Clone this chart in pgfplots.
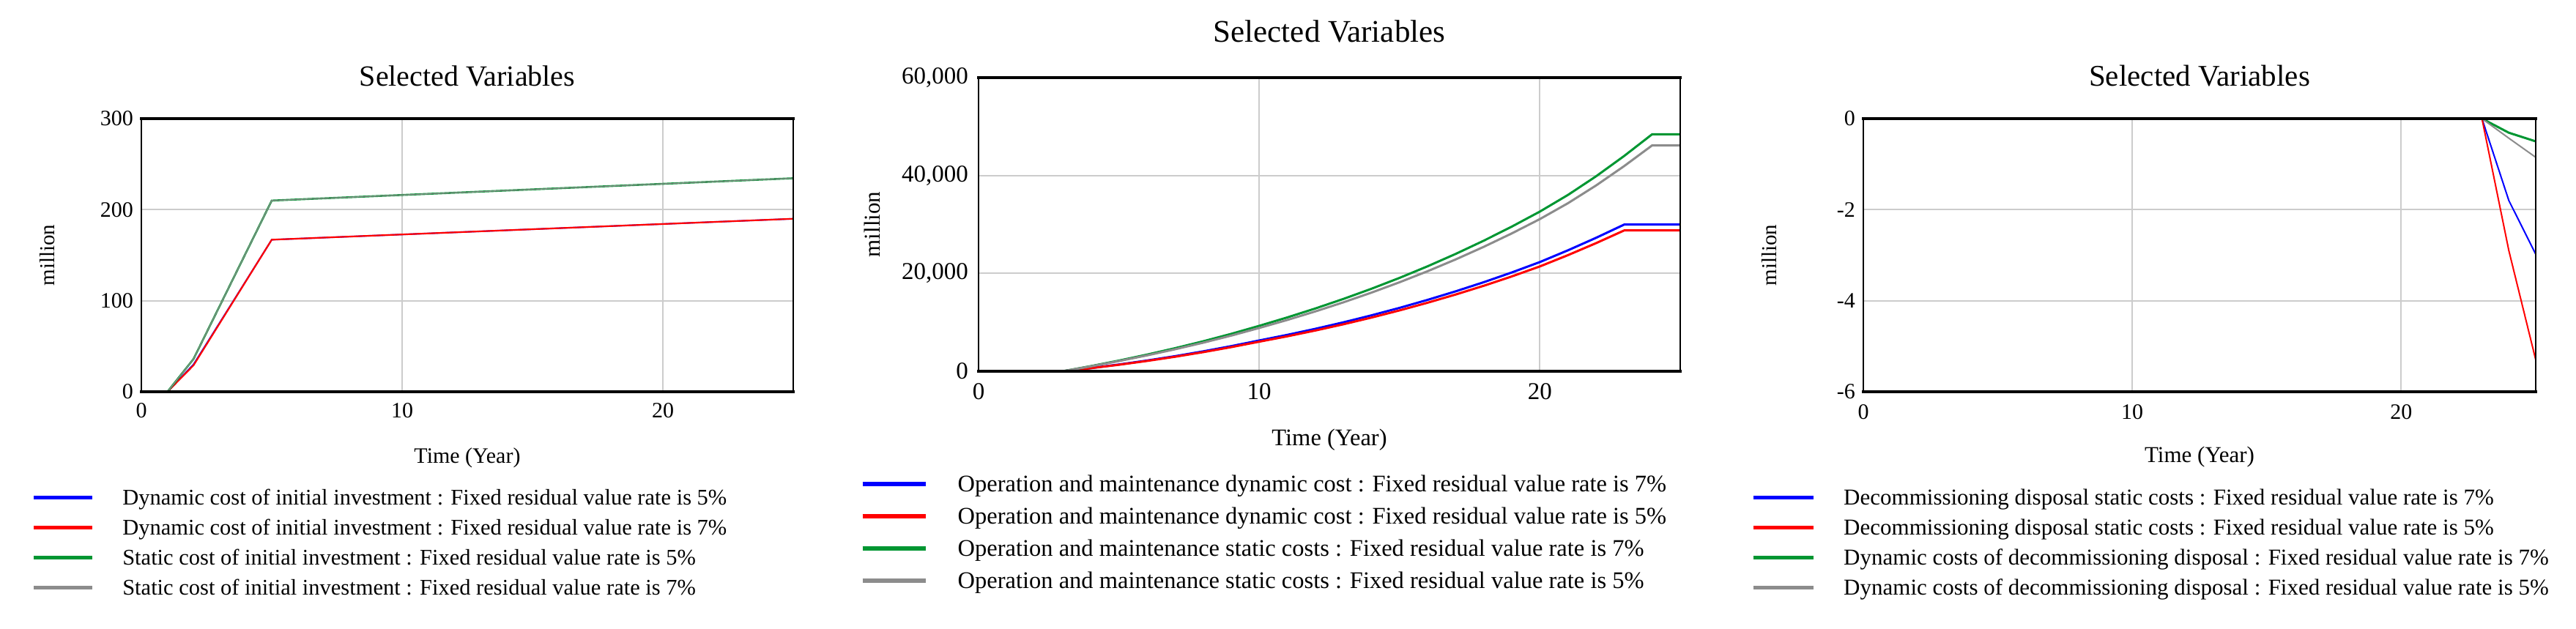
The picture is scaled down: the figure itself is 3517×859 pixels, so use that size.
\documentclass[border=0pt]{standalone}
\usepackage{fontspec}
\setmainfont{Liberation Serif}
\usepackage{pgfplots}
\pgfplotsset{compat=1.18}
\newcommand{\fs}[1]{\fontsize{#1}{#1}\selectfont}
\definecolor{vblue}{RGB}{0,0,255}
\definecolor{vred}{RGB}{255,0,0}
\definecolor{vgreen}{RGB}{0,150,50}
\definecolor{vgray}{RGB}{140,140,140}
\pgfplotsset{
  vsim/.style={
    scale only axis, anchor=south west,
    xmin=0, xmax=25, xtick={0,10,20},
    grid=major, grid style={line width=2pt, color=black!20},
    major tick length=0pt,
    axis line style={draw=none},
    clip=false,
    /pgf/number format/assume math mode=true,
    /pgf/number format/1000 sep={,},
    scaled y ticks=false,
    legend cell align=left,
    title style={at={(axis description cs:0.5,1)}, anchor=base},
    xlabel style={at={(axis description cs:0.5,0)}, anchor=base},
    xticklabel style={anchor=north, inner sep=0pt},
    yticklabel style={anchor=east, inner sep=0pt},
    title={Selected Variables},
    xlabel={Time (Year)},
    ylabel={million},
  }
}
\begin{document}
\begin{tikzpicture}
\path[use as bounding box] (0pt,0pt) rectangle (3517pt,859pt);
% ---------------- Panel 1 ----------------
\begin{axis}[vsim,
  at={(193pt,324pt)}, width=890pt, height=373pt,
  ymin=0, ymax=300, ytick={0,100,200,300},
  title style={font=\fs{40}, yshift=38pt},
  xlabel style={font=\fs{30}, yshift=-97pt},
  ylabel style={font=\fs{29}, at={(axis description cs:-0.1438,0.5)}, anchor=center},
  xticklabel style={font=\fs{30}, yshift=-15pt},
  yticklabel style={font=\fs{30}, xshift=-11pt},
  legend style={at={(axis description cs:-0.1685,-0.5523)}, anchor=west, draw=none, fill=none,
    inner sep=0pt, outer sep=0pt, row sep=6.2pt, font=\fs{30.5},
    nodes={inner sep=0pt, text height=27.45pt, text depth=7.32pt}},
  legend image code/.code={\draw[#1, line width=5.5pt] (0pt,0pt) -- (80pt,0pt); \path[draw=none] (0pt,0pt) -- (121.5pt,0pt);},
]
\addplot[vblue, line width=2pt] coordinates {(0,0) (1,0) (2,30) (5,167) (25,190)};
\addlegendentry{Dynamic cost of initial investment : Fixed residual value rate is 5\%}
\addplot[vred, line width=2.2pt] coordinates {(0,0) (1,0) (2,29) (5,167) (25,190)};
\addlegendentry{Dynamic cost of initial investment : Fixed residual value rate is 7\%}
\addplot[vgreen, line width=2.6pt] coordinates {(0,0) (1,0) (2,36) (5,210) (25,234.5)};
\addlegendentry{Static cost of initial investment : Fixed residual value rate is 5\%}
\addplot[vgray, line width=1.3pt] coordinates {(0,0) (1,0) (2,36) (5,210) (25,234.5)};
\addlegendentry{Static cost of initial investment : Fixed residual value rate is 7\%}
\draw[line width=2.5pt] (rel axis cs:0,0) rectangle (rel axis cs:1,1);
\draw[line width=4pt, line cap=rect] (rel axis cs:0,0) -- (rel axis cs:1,0);
\draw[line width=4pt, line cap=rect] (rel axis cs:0,1) -- (rel axis cs:1,1);
\end{axis}
% ---------------- Panel 2 ----------------
\begin{axis}[vsim,
  at={(1336pt,352pt)}, width=958pt, height=401pt,
  ymin=0, ymax=60000, ytick={0,20000,40000,60000},
  title style={font=\fs{43}, yshift=43pt},
  xlabel style={font=\fs{32.5}, yshift=-101pt},
  ylabel style={font=\fs{31}, at={(axis description cs:-0.1514,0.5)}, anchor=center},
  xticklabel style={font=\fs{33}, yshift=-16pt},
  yticklabel style={font=\fs{33}, xshift=-14pt},
  legend style={at={(axis description cs:-0.1681,-0.5486)}, anchor=west, draw=none, fill=none,
    inner sep=0pt, outer sep=0pt, row sep=6.95pt, font=\fs{32.5},
    nodes={inner sep=0pt, text height=29.25pt, text depth=7.8pt}},
  legend image code/.code={\draw[#1, line width=5.5pt] (0pt,0pt) -- (86pt,0pt); \path[draw=none] (0pt,0pt) -- (130pt,0pt);},
]
\addplot[vblue, line width=3pt] coordinates {(0,0) (3,0) (4,650) (5,1380) (6,2190) (7,3080) (8,4060) (9,5130) (10,6290)
  (11,7435) (12,8671) (13,9998) (14,11425) (15,12952) (16,14588) (17,16333) (18,18197) (19,20188) (20,22315)
  (21,24715) (22,27265) (23,29965) (24,29965) (25,29965)};
\addlegendentry{Operation and maintenance dynamic cost : Fixed residual value rate is 7\%}
\addplot[vred, line width=3pt] coordinates {(0,0) (3,0) (4,624) (5,1325) (6,2102) (7,2957) (8,3898) (9,4925) (10,6038)
  (11,7138) (12,8324) (13,9598) (14,10968) (15,12434) (16,14004) (17,15680) (18,17469) (19,19380) (20,21422)
  (21,23726) (22,26174) (23,28766) (24,28766) (25,28766)};
\addlegendentry{Operation and maintenance dynamic cost : Fixed residual value rate is 5\%}
\addplot[vgreen, line width=3pt] coordinates {(0,0) (3,0) (4,1050) (5,2180) (6,3400) (7,4710) (8,6120) (9,7640) (10,9280)
  (11,11000) (12,12830) (13,14780) (14,16860) (15,19080) (16,21450) (17,23980) (18,26680) (19,29560) (20,32630)
  (21,36030) (22,39830) (23,43980) (24,48430) (25,48430)};
\addlegendentry{Operation and maintenance static costs : Fixed residual value rate is 7\%}
\addplot[vgray, line width=3pt] coordinates {(0,0) (3,0) (4,1000) (5,2078) (6,3240) (7,4489) (8,5832) (9,7281) (10,8844)
  (11,10483) (12,12227) (13,14085) (14,16068) (15,18183) (16,20442) (17,22853) (18,25426) (19,28171) (20,31096)
  (21,34337) (22,37958) (23,41913) (24,46154) (25,46154)};
\addlegendentry{Operation and maintenance static costs : Fixed residual value rate is 5\%}
\draw[line width=2.5pt] (rel axis cs:0,0) rectangle (rel axis cs:1,1);
\draw[line width=4pt, line cap=rect] (rel axis cs:0,0) -- (rel axis cs:1,0);
\draw[line width=4pt, line cap=rect] (rel axis cs:0,1) -- (rel axis cs:1,1);
\end{axis}
% ---------------- Panel 3 ----------------
\begin{axis}[vsim,
  at={(2544pt,324pt)}, width=918pt, height=373pt,
  ymin=-6, ymax=0, ytick={-6,-4,-2,0},
  title style={font=\fs{41}, yshift=38pt},
  xlabel style={font=\fs{31}, yshift=-97pt},
  ylabel style={font=\fs{29}, at={(axis description cs:-0.1394,0.5)}, anchor=center},
  xticklabel style={font=\fs{30}, yshift=-17pt},
  yticklabel style={font=\fs{30}, xshift=-11pt},
  legend style={at={(axis description cs:-0.1667,-0.5523)}, anchor=west, draw=none, fill=none,
    inner sep=0pt, outer sep=0pt, row sep=5.66pt, font=\fs{31},
    nodes={inner sep=0pt, text height=27.9pt, text depth=7.44pt}},
  legend image code/.code={\draw[#1, line width=5.5pt] (0pt,0pt) -- (82pt,0pt); \path[draw=none] (0pt,0pt) -- (123.5pt,0pt);},
]
\addplot[vblue, line width=2pt] coordinates {(0,0) (23,0) (24,-1.8) (25,-2.98)};
\addlegendentry{Decommissioning disposal static costs : Fixed residual value rate is 7\%}
\addplot[vred, line width=2pt] coordinates {(0,0) (23,0) (24,-2.9) (25,-5.3)};
\addlegendentry{Decommissioning disposal static costs : Fixed residual value rate is 5\%}
\addplot[vgreen, line width=3pt] coordinates {(0,0) (23,0) (24,-0.31) (25,-0.5)};
\addlegendentry{Dynamic costs of decommissioning disposal : Fixed residual value rate is 7\%}
\addplot[vgray, line width=2pt] coordinates {(0,0) (23,0) (24,-0.43) (25,-0.85)};
\addlegendentry{Dynamic costs of decommissioning disposal : Fixed residual value rate is 5\%}
\draw[line width=2.5pt] (rel axis cs:0,0) rectangle (rel axis cs:1,1);
\draw[line width=4pt, line cap=rect] (rel axis cs:0,0) -- (rel axis cs:1,0);
\draw[line width=4pt, line cap=rect] (rel axis cs:0,1) -- (rel axis cs:1,1);
\end{axis}
\end{tikzpicture}
\end{document}
